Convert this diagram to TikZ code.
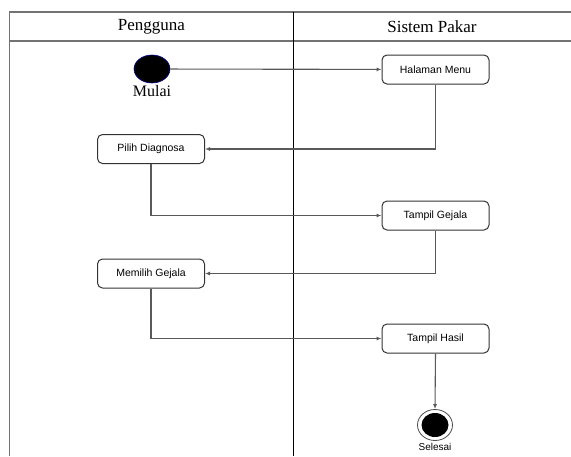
\documentclass[tikz,border=0pt]{standalone}
\usepackage{fontspec}
\setmainfont{Liberation Serif}
\newfontfamily\boxfont{Liberation Sans}
\usetikzlibrary{shapes.geometric,arrows.meta}
\begin{document}
\begin{tikzpicture}[x=1pt,y=-1pt,
  frame/.style={draw=black!55, line width=1.6pt},
  lanediv/.style={draw=black, line width=1pt},
  act/.style={draw=black!80, line width=1pt, rounded corners=5pt,
    minimum width=107pt, minimum height=29pt, inner sep=0pt,
    font=\boxfont\fontsize{10.5}{12}\selectfont},
  flow/.style={draw=black!65, line width=1.1pt,
    -{Latex[length=5pt,width=4pt]}},
  lanehead/.style={font=\fontsize{17}{20}\selectfont},
  lbl/.style={font=\fontsize{16}{19}\selectfont, inner sep=0pt}]
\useasboundingbox (0,0) rectangle (571,456);

% swimlane frame
\draw[frame] (9.5,456) -- (9.5,12) -- (571,12);
\draw[frame] (9.5,41) -- (571,41);
\draw[lanediv] (293.5,12) -- (293.5,456);
\node[lanehead] (lane1) at (151.5,27) {Pengguna};
\node[lanehead] (lane2) at (432,27) {Sistem Pakar};

% start and end
\node[ellipse, fill=black, draw=blue!55!black, line width=0.6pt,
  minimum width=36pt, minimum height=28pt, inner sep=0pt] (start) at (152,69) {};
\node[lbl, anchor=base] (mulai) at (152,96) {Mulai};

\node[ellipse, draw=black!70, line width=0.8pt,
  minimum width=35pt, minimum height=31pt, inner sep=0pt] (end) at (435,425) {};
\fill (end.center) ellipse (13.5 and 12);
\node[font=\boxfont\fontsize{10}{12}\selectfont] (selesai) at (435,447) {Selesai};

% activities
\node[act] (menu) at (435.5,69.5) {Halaman Menu};
\node[act] (diag) at (151,149) {Pilih Diagnosa};
\node[act] (gej) at (435.5,215.5) {Tampil Gejala};
\node[act] (pilgej) at (151,273.5) {Memilih Gejala};
\node[act] (hasil) at (435.5,338.5) {Tampil Hasil};

% transitions
\draw[flow] (start) -- (menu);
\draw[flow] (menu.south) |- (diag.east);
\draw[flow] (diag.south) |- (gej.west);
\draw[flow] (gej.south) |- (pilgej.east);
\draw[flow] (pilgej.south) |- (hasil.west);
\draw[flow] (hasil.south) -- (end.north);
\end{tikzpicture}
\end{document}
